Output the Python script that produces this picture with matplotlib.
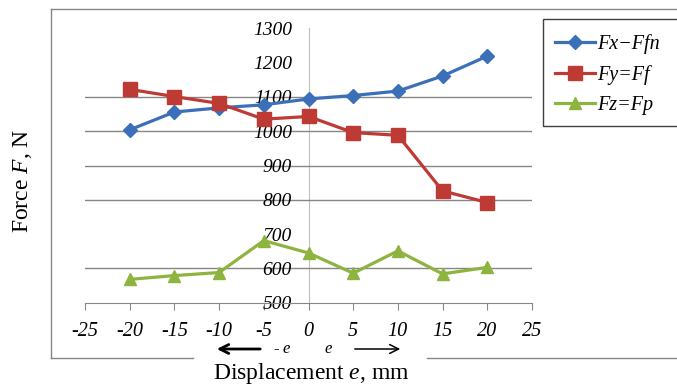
import matplotlib
matplotlib.use("Agg")
from matplotlib import pyplot as plt
from matplotlib.lines import Line2D
from matplotlib.patches import Rectangle, FancyArrowPatch

plt.rcParams['font.family'] = ['Liberation Serif', 'DejaVu Serif']
plt.rcParams['mathtext.fontset'] = 'custom'
plt.rcParams['mathtext.rm'] = 'Liberation Serif'
plt.rcParams['mathtext.it'] = 'Liberation Serif:italic'
plt.rcParams['axes.unicode_minus'] = False

# data
e = [-20, -15, -10, -5, 0, 5, 10, 15, 20]
fx = [1004, 1056, 1068, 1077, 1094, 1104, 1117, 1161, 1219]
fy = [1122, 1101, 1081, 1035, 1043, 996, 988, 826, 792]
fz = [568, 579, 588, 681, 645, 586, 651, 584, 603]

names = ["Fx\u2212Ffn", "Fy=Ff", "Fz=Fp"]
colores = ["#3B70B9", "#BE3A34", "#8DB43E"]
marcas = ["D", "s", "^"]
tam_marcas = [7, 9.5, 8.5]

x_ticks = [-25, -20, -15, -10, -5, 0, 5, 10, 15, 20, 25]
y_ticks = [500, 600, 700, 800, 900, 1000, 1100, 1200, 1300]
y_grid = [600, 800, 900, 1000, 1100]  # lineas que se ven en la imagen

W, H = 677, 389
fig = plt.figure(figsize=(W/100, H/100), dpi=100)
ax = fig.add_axes([85/W, (H-302.7)/H, (532-85)/W, (302.7-28.3)/H])

# primero la posicion del eje y (resetea los ticks)
ax.spines['top'].set_visible(False)
ax.spines['right'].set_visible(False)
ax.spines['left'].set_position(('data', 0))
ax.spines['left'].set_color("#BFBFBF")
ax.spines['left'].set_zorder(0)
ax.spines['bottom'].set_color("#868686")

for g in y_grid:
    ax.axhline(g, color="#868686", lw=1, zorder=1)

series = [fx, fy, fz]
for s, n, c, m, ms in zip(series, names, colores, marcas, tam_marcas):
    ax.plot(e, s, color=c, lw=2.3, marker=m, markersize=ms, label=n, zorder=3)

ax.set_xlim(-25, 25)
ax.set_ylim(500, 1300)
ax.set_xticks(x_ticks)
ax.set_xticklabels([str(v) for v in x_ticks], fontstyle="italic", fontsize=14.5)
ax.set_yticks(y_ticks)
ax.set_yticklabels([str(v) for v in y_ticks], fontstyle="italic", fontsize=14)
ax.tick_params(axis='x', length=5, color="#868686", pad=9)
ax.tick_params(axis='y', length=0, pad=12)
ax.patch.set_visible(False)

# leyenda a la derecha
leg = fig.legend(loc="upper left", bbox_to_anchor=(547/W, 1-26/H), frameon=False,
                 prop={'style': 'italic', 'size': 14.5}, handlelength=2.0,
                 handletextpad=0.1, labelspacing=0.55, borderaxespad=0)
fig.patches.append(Rectangle((543/W, 1-126/H), 140/W, 107/H, transform=fig.transFigure,
                             fill=False, edgecolor="#404040", lw=1))

# borde del grafico
borde = "#868686"
fig.add_artist(Line2D([51/W, 51/W], [1-9/H, 1-358/H], color=borde, lw=1))
fig.add_artist(Line2D([51/W, 1], [1-9/H, 1-9/H], color=borde, lw=1))
fig.add_artist(Line2D([51/W, 193/W], [1-358/H, 1-358/H], color=borde, lw=1))
fig.add_artist(Line2D([427/W, 1], [1-358/H, 1-358/H], color=borde, lw=1))

# titulos de ejes
fig.text(23/W, 1-181/H, "Force $F$, N", rotation=90, ha="center", va="center", fontsize=17)
fig.text(311/W, 1-374/H, "Displacement $e$, mm", ha="center", va="center", fontsize=17)

# flechas -e / e
fig.add_artist(FancyArrowPatch((263/W, 1-349/H), (214/W, 1-349/H), transform=fig.transFigure,
                               arrowstyle="->", mutation_scale=16, lw=2.0, color="black"))
fig.add_artist(FancyArrowPatch((352/W, 1-349/H), (403/W, 1-349/H), transform=fig.transFigure,
                               arrowstyle="->", mutation_scale=16, lw=1.1, color="black"))
fig.text(282/W, 1-349/H, "- $e$", ha="center", va="center", fontsize=12)
fig.text(329/W, 1-349/H, "$e$", ha="center", va="center", fontsize=12)

plt.savefig("out.png", dpi=100)
